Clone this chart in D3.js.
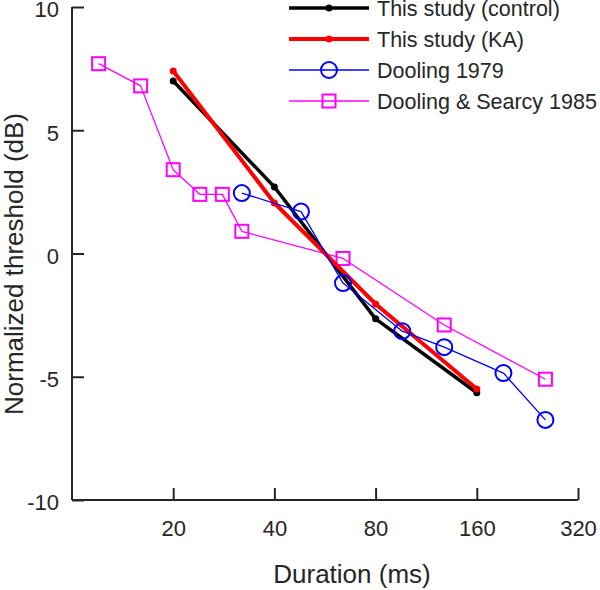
<!DOCTYPE html>
<html>
<head>
<meta charset="utf-8">
<script src="https://cdn.jsdelivr.net/npm/d3@7"></script>
<style>
  html, body { margin: 0; padding: 0; background: #fff; }
  svg text { font-family: Arial, "Liberation Sans", Helvetica, sans-serif; fill: #262626; }
</style>
</head>
<body>
<div id="chart"></div>
<script>
// ── Data ─────────────────────────────────────────────────────────
const xTicks = [20, 40, 80, 160, 320];
const yTicks = [-10, -5, 0, 5, 10];

const controlDur = [20, 40, 80, 160];
const controlThr = [7.0, 2.7, -2.65, -5.65];

const kaDur = [20, 40, 80, 160];
const kaThr = [7.4, 2.05, -2.05, -5.5];

const dooling79Dur = [32, 48, 64, 96, 128, 192, 256];
const dooling79Thr = [2.45, 1.7, -1.2, -3.15, -3.8, -4.85, -6.75];

const searcyDur = [12, 16, 20, 24, 28, 32, 64, 128, 256];
const searcyThr = [7.7, 6.8, 3.4, 2.4, 2.4, 0.9, -0.2, -2.9, -5.1];

const seriesNames = ['This study (control)', 'This study (KA)', 'Dooling 1979', 'Dooling & Searcy 1985'];

// ── Layout ───────────────────────────────────────────────────────
const W = 600, H = 590;
const plot = { left: 72, right: 578, top: 7, bottom: 500 };
const AXIS = '#262626';

const svg = d3.select('#chart').append('svg')
  .attr('width', W)
  .attr('height', H);

const x = d3.scaleLog().base(2).domain([10, 320]).range([plot.left, plot.right]);
const y = d3.scaleLinear().domain([-10, 10]).range([plot.bottom, plot.top]);

// ── Axes ─────────────────────────────────────────────────────────
const xAxis = svg.append('g')
  .attr('transform', `translate(0,${plot.bottom})`)
  .call(d3.axisTop(x).tickValues(xTicks).tickSizeOuter(0).tickSize(12).tickFormat(d => String(d)));
xAxis.select('.domain').attr('stroke', AXIS).attr('stroke-width', 2)
  .attr('d', `M${plot.left},0H${plot.right}`);
xAxis.selectAll('.tick line').attr('stroke', AXIS).attr('stroke-width', 2);
xAxis.selectAll('.tick text')
  .attr('y', 36)
  .attr('dy', 0)
  .attr('font-size', '22px')
  .attr('fill', AXIS);

// plain hyphen for negatives, as in the original
const yAxis = svg.append('g')
  .attr('transform', `translate(${plot.left},0)`)
  .call(d3.axisRight(y).tickValues(yTicks).tickSizeOuter(0).tickSize(12).tickFormat(d => String(d)));
yAxis.select('.domain').attr('stroke', AXIS).attr('stroke-width', 2)
  .attr('d', `M0,${plot.top}V${plot.bottom}`);
yAxis.selectAll('.tick line').attr('stroke', AXIS).attr('stroke-width', 2);
yAxis.selectAll('.tick text')
  .attr('x', -13)
  .attr('dy', '0.45em')
  .attr('text-anchor', 'end')
  .attr('font-size', '22px')
  .attr('fill', AXIS);

// Axis titles
svg.append('text')
  .attr('x', 352)
  .attr('y', 583)
  .attr('text-anchor', 'middle')
  .attr('font-size', '26px')
  .text('Duration (ms)');

svg.append('text')
  .attr('transform', 'translate(23,264) rotate(-90)')
  .attr('text-anchor', 'middle')
  .attr('font-size', '26px')
  .text('Normalized threshold (dB)');

// ── Series ───────────────────────────────────────────────────────
const line = d3.line().x(d => x(d[0])).y(d => y(d[1]));
const zip = (a, b) => a.map((v, i) => [v, b[i]]);

const series = [
  { name: seriesNames[3], pts: zip(searcyDur, searcyThr), color: '#ff00ff', width: 1.3, marker: 'square' },
  { name: seriesNames[0], pts: zip(controlDur, controlThr), color: '#000000', width: 3.5, marker: 'dot' },
  { name: seriesNames[1], pts: zip(kaDur, kaThr), color: '#ff0000', width: 4, marker: 'dot' },
  { name: seriesNames[2], pts: zip(dooling79Dur, dooling79Thr), color: '#0000ff', width: 1.3, marker: 'circle' }
];

function drawMarker(g, kind, color, cx, cy) {
  if (kind === 'dot') {
    g.append('circle').attr('cx', cx).attr('cy', cy).attr('r', 3.5).attr('fill', color);
  } else if (kind === 'circle') {
    g.append('circle').attr('cx', cx).attr('cy', cy).attr('r', 8)
      .attr('fill', 'none').attr('stroke', color).attr('stroke-width', 2);
  } else if (kind === 'square') {
    g.append('rect').attr('x', cx - 6.5).attr('y', cy - 6.5).attr('width', 13).attr('height', 13)
      .attr('fill', 'none').attr('stroke', color).attr('stroke-width', 2);
  }
}

series.forEach(s => {
  const g = svg.append('g');
  g.append('path')
    .attr('d', line(s.pts))
    .attr('fill', 'none')
    .attr('stroke', s.color)
    .attr('stroke-width', s.width)
    .attr('stroke-linejoin', 'round');
  s.pts.forEach(p => drawMarker(g, s.marker, s.color, x(p[0]), y(p[1])));
});

// ── Legend ───────────────────────────────────────────────────────
const legendOrder = [1, 2, 3, 0].map(i => series[i]);
const lg = svg.append('g');
legendOrder.forEach((s, i) => {
  const ly = 8 + i * 31;
  lg.append('line')
    .attr('x1', 289).attr('x2', 369)
    .attr('y1', ly).attr('y2', ly)
    .attr('stroke', s.color)
    .attr('stroke-width', s.width);
  drawMarker(lg, s.marker, s.color, 329, ly);
  lg.append('text')
    .attr('x', 377)
    .attr('y', ly)
    .attr('dy', '0.38em')
    .attr('font-size', '21.5px')
    .attr('fill', '#000')
    .text(s.name);
});
</script>
</body>
</html>
